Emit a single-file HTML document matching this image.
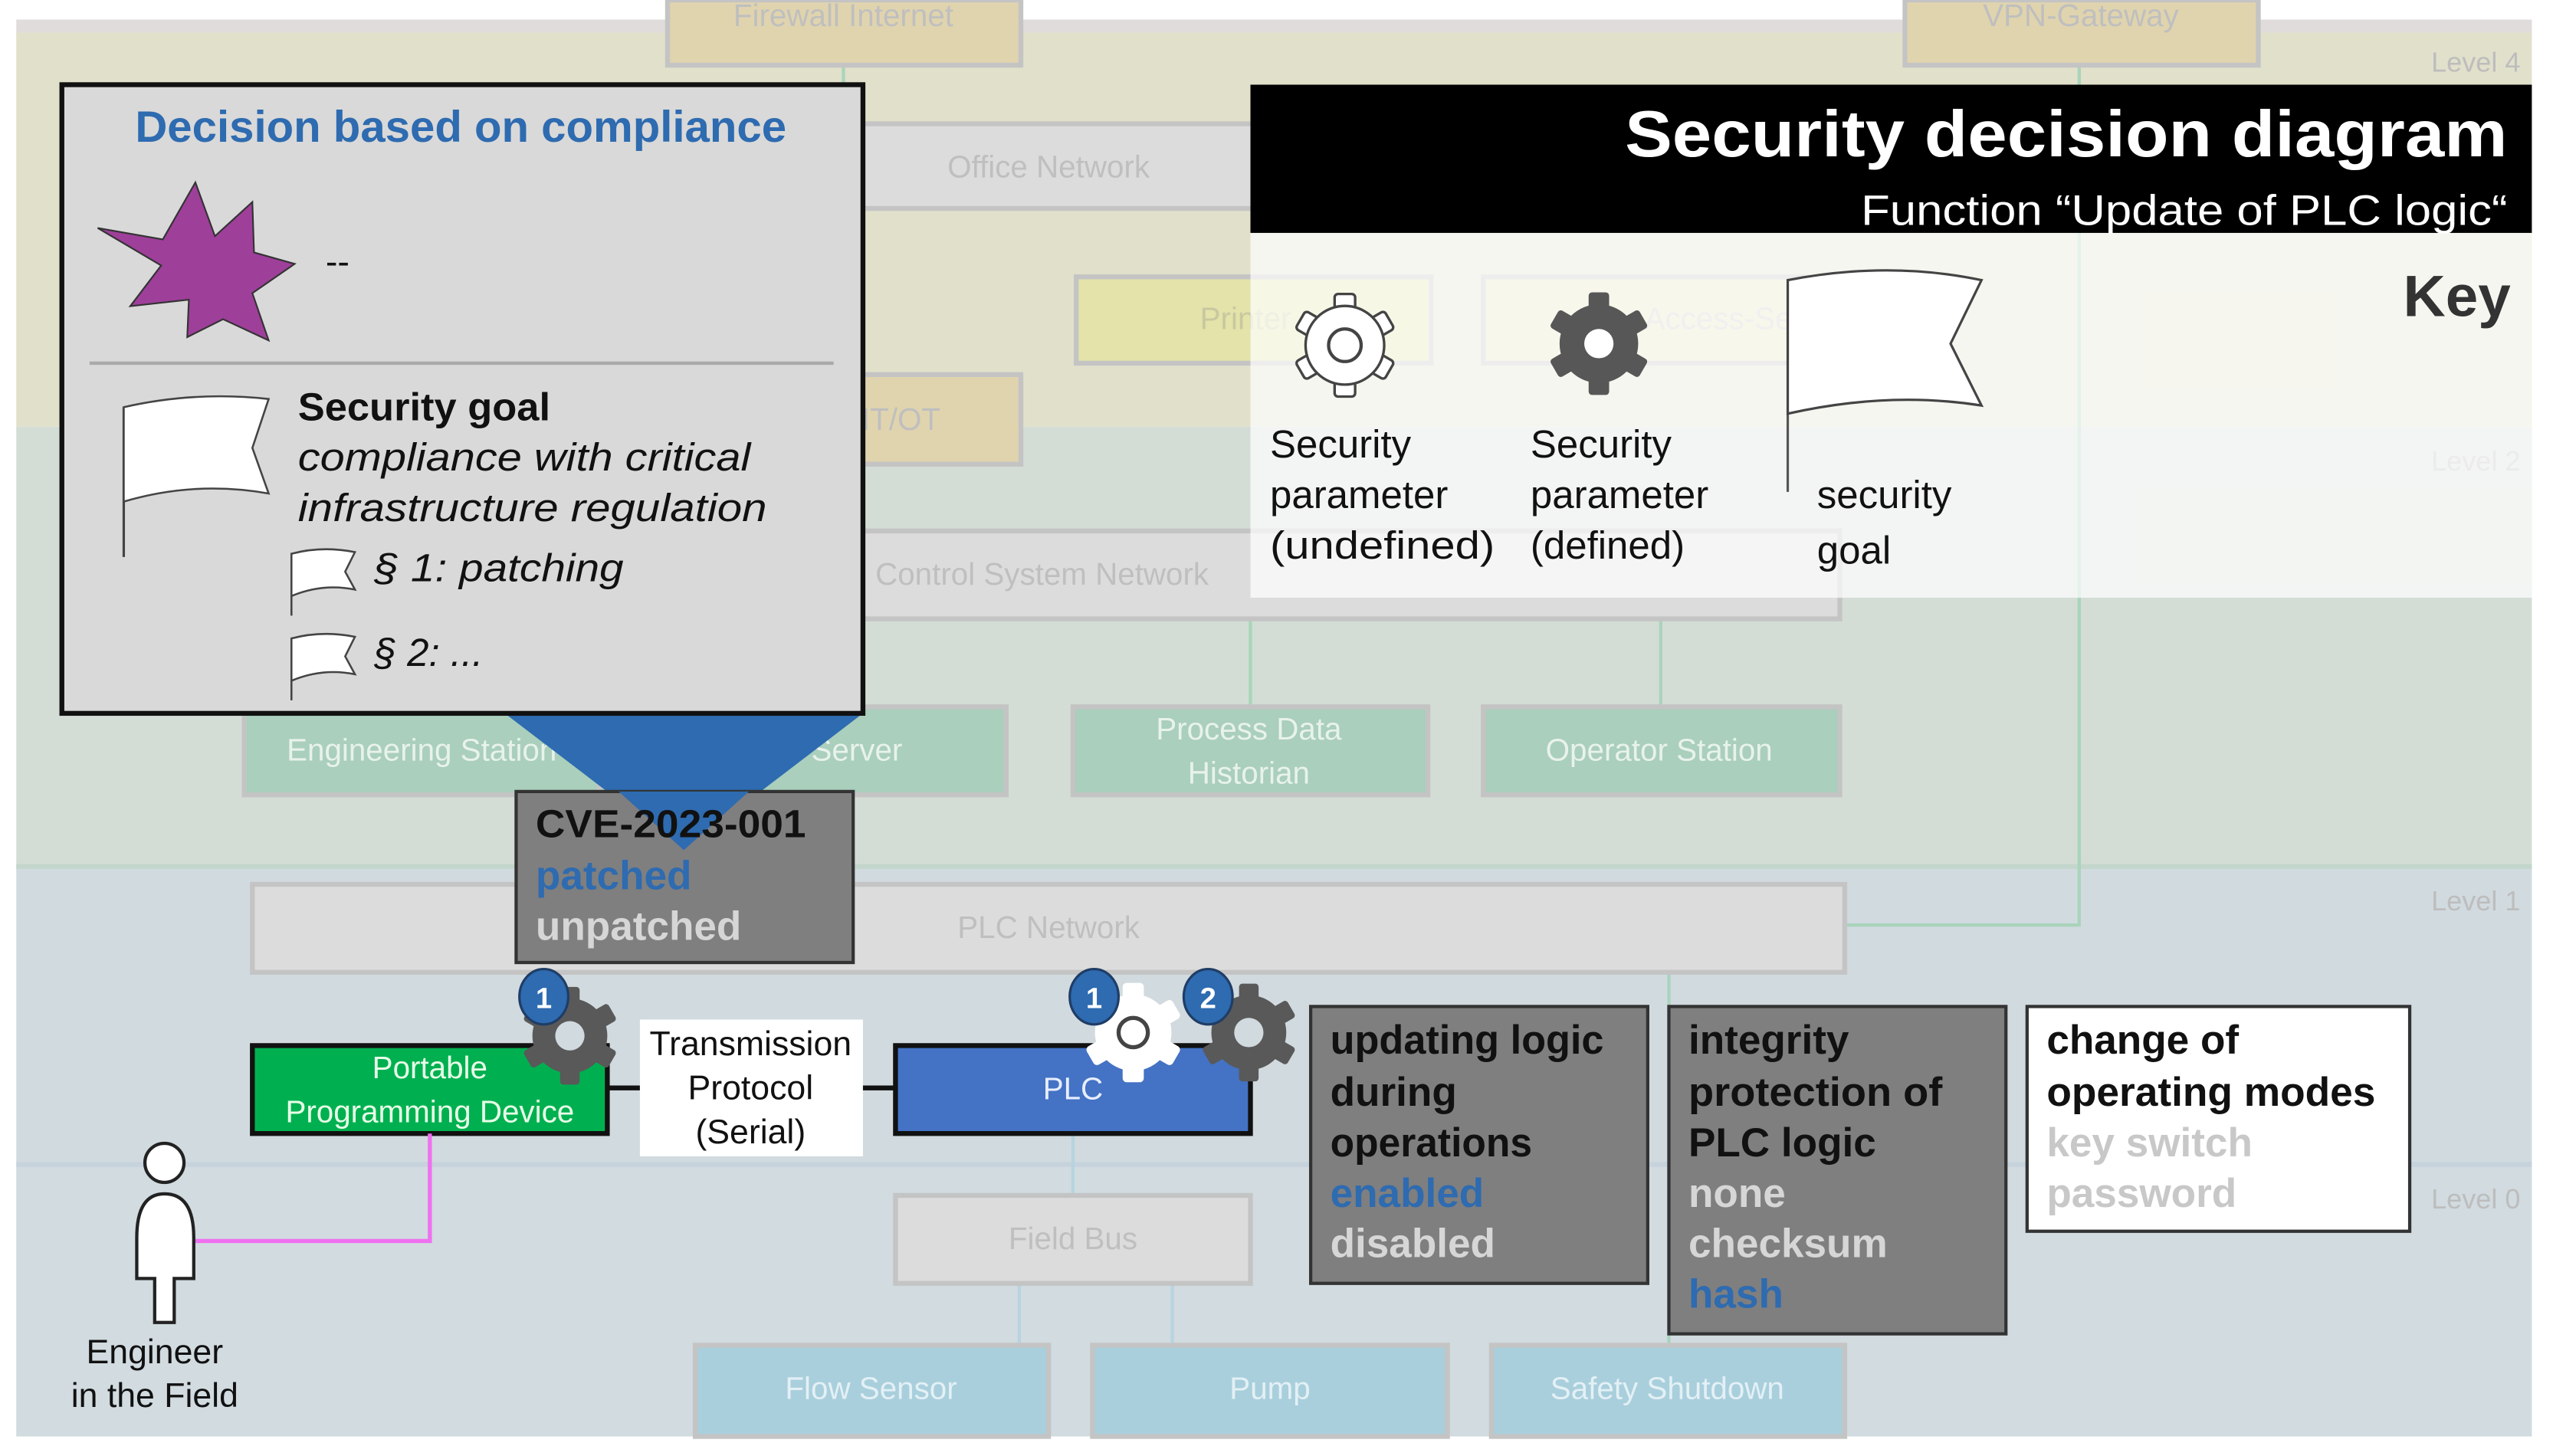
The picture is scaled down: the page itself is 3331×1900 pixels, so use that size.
<!DOCTYPE html>
<html><head><meta charset="utf-8"><style>
html,body{margin:0;padding:0;background:#fff;}
svg{display:block;}
text{font-family:"Liberation Sans",sans-serif;}
</style></head><body>
<svg width="3331" height="1900" viewBox="0 0 1568 894" preserveAspectRatio="none" xmlns="http://www.w3.org/2000/svg">
<defs>
<g id="gear">
  <rect x="-6" y="-30" width="12" height="14" rx="2"/>
  <rect x="-6" y="-30" width="12" height="14" rx="2" transform="rotate(60)"/>
  <rect x="-6" y="-30" width="12" height="14" rx="2" transform="rotate(120)"/>
  <rect x="-6" y="-30" width="12" height="14" rx="2" transform="rotate(180)"/>
  <rect x="-6" y="-30" width="12" height="14" rx="2" transform="rotate(240)"/>
  <rect x="-6" y="-30" width="12" height="14" rx="2" transform="rotate(300)"/>
  <circle r="23"/>
</g>
</defs>
<rect width="1568" height="894" fill="#fff"/>
<rect x="10" y="12" width="1545" height="10" fill="#e0dcdc"/>
<rect x="10" y="20" width="1545" height="242" fill="#e1e0cb"/>
<rect x="10" y="262" width="1545" height="270" fill="#d3ddd5"/>
<rect x="10" y="532" width="1545" height="183" fill="#d1dadf"/>
<rect x="10" y="715" width="1545" height="167" fill="#d1dbe0"/>
<line x1="10" y1="532" x2="1555" y2="532" stroke="#c3d6cb" stroke-width="3"/>
<line x1="10" y1="715" x2="1555" y2="715" stroke="#c6d3dc" stroke-width="3"/>
<g font-size="17" fill="#bdbdbd" text-anchor="end">
<text x="1548" y="44">Level 4</text><text x="1548" y="289">Level 2</text>
<text x="1548" y="559">Level 1</text><text x="1548" y="742">Level 0</text></g>
<g stroke="#a9d4bb" stroke-width="2" fill="none">
<polyline points="1277,40 1277,568 1133,568"/>
<line x1="518" y1="40" x2="518" y2="76"/>
<line x1="768" y1="380" x2="768" y2="434"/>
<line x1="1020" y1="380" x2="1020" y2="434"/>
<line x1="1025" y1="597" x2="1025" y2="826"/>
</g>
<g stroke="#b7d4e0" stroke-width="2"><line x1="659" y1="696" x2="659" y2="734"/><line x1="626" y1="788" x2="626" y2="826"/><line x1="720" y1="788" x2="720" y2="826"/></g>
<g stroke="#c4c4c4" stroke-width="3">
<rect x="410" y="0" width="217" height="40" fill="#e0d4ae"/>
<rect x="1170" y="0" width="217" height="40" fill="#e0d4ae"/>
<rect x="530" y="76" width="240" height="52" fill="#dcdcdc"/>
<rect x="661" y="170" width="218" height="53" fill="#e3e3aa"/>
<rect x="911" y="170" width="219" height="53" fill="#e6e5c0"/>
<rect x="410" y="230" width="217" height="55" fill="#e0d4ae"/>
<rect x="150" y="326" width="980" height="54" fill="#dcdcdc"/>
<rect x="150" y="434" width="218" height="54" fill="#aacfbc"/>
<rect x="368" y="434" width="250" height="54" fill="#aacfbc"/>
<rect x="659" y="434" width="218" height="54" fill="#aacfbc"/>
<rect x="911" y="434" width="219" height="54" fill="#aacfbc"/>
<rect x="155" y="543" width="978" height="54" fill="#dcdcdc"/>
<rect x="550" y="734" width="218" height="54" fill="#dcdcdc"/>
<rect x="427" y="826" width="217" height="56" fill="#a9cfdc"/>
<rect x="671" y="826" width="218" height="56" fill="#a9cfdc"/>
<rect x="916" y="826" width="217" height="56" fill="#a9cfdc"/>
</g>
<g font-size="19" fill="#bfbfbf" text-anchor="middle">
<text x="518" y="16">Firewall Internet</text>
<text x="1278" y="16">VPN-Gateway</text>
<text x="644" y="109">Office Network</text>
<text x="518" y="264">Firewall IT/OT</text>
<text x="640" y="359">Control System Network</text>
<text x="644" y="576">PLC Network</text>
<text x="659" y="767">Field Bus</text>
</g>
<g font-size="19" fill="#e8f2ec" text-anchor="middle">
<text x="259" y="467">Engineering Station</text>
<text x="493" y="467">Control Server</text>
<text x="767" y="454">Process Data</text><text x="767" y="481">Historian</text>
<text x="1019" y="467">Operator Station</text>
</g>
<g font-size="19" fill="#e3f0f5" text-anchor="middle">
<text x="535" y="859">Flow Sensor</text><text x="780" y="859">Pump</text><text x="1024" y="859">Safety Shutdown</text>
</g>
<text x="737" y="202" font-size="19" fill="#c8c8a0">Printer</text>
<text x="1010" y="202" font-size="19" fill="#ccc">Access-Server</text>

<rect x="768" y="143" width="787" height="224" fill="#fff" fill-opacity="0.7"/>
<rect x="768" y="52" width="787" height="91" fill="#000"/>
<text x="1540" y="96" font-size="40" font-weight="bold" fill="#fff" text-anchor="end" textLength="542" lengthAdjust="spacingAndGlyphs">Security decision diagram</text>
<text x="1540" y="138" font-size="26" fill="#fff" text-anchor="end" textLength="397" lengthAdjust="spacingAndGlyphs">Function “Update of PLC logic“</text>
<text x="1542" y="194" font-size="36" font-weight="bold" fill="#333" text-anchor="end">Key</text>
<use href="#gear" transform="translate(826,212) scale(1.05)" fill="#fff" stroke="#444" stroke-width="1.5"/>
<circle cx="826" cy="212" r="10" fill="#fff" stroke="#444" stroke-width="2"/>
<use href="#gear" transform="translate(982,211) scale(1.05)" fill="#575757"/>
<circle cx="982" cy="211" r="9" fill="#fff"/>
<g font-size="24" fill="#111">
<text x="780" y="281">Security</text><text x="780" y="312">parameter</text><text x="780" y="343" textLength="138" lengthAdjust="spacingAndGlyphs">(undefined)</text>
<text x="940" y="281">Security</text><text x="940" y="312">parameter</text><text x="940" y="343">(defined)</text>
<text x="1116" y="312">security</text><text x="1116" y="346">goal</text>
</g>
<line x1="1098" y1="172" x2="1098" y2="302" stroke="#555" stroke-width="1.5"/>
<path d="M1098,172 Q1160,160 1217,172 L1198,211 L1217,249 Q1160,240 1098,254 Z" fill="#fff" stroke="#444" stroke-width="1.5"/>

<polygon points="310,438 530,438 420,522" fill="#2e6bb0"/>
<rect x="38" y="52" width="492" height="386" fill="#d9d9d9" stroke="#111" stroke-width="3"/>
<text x="283" y="87" font-size="27" font-weight="bold" fill="#2e6bb0" text-anchor="middle" textLength="400" lengthAdjust="spacingAndGlyphs">Decision based on compliance</text>
<polygon points="120,112 132,145 155,124 156,155 181,162 155,180 165,209 137,196 115,207 116,184 80,188 99,163 60,140 100,147" fill="#9e3f9a" stroke="#333" stroke-width="1"/>
<text x="200" y="168" font-size="22" fill="#111">--</text>
<line x1="55" y1="223" x2="512" y2="223" stroke="#aaa" stroke-width="2"/>
<line x1="76" y1="250" x2="76" y2="342" stroke="#444" stroke-width="1.5"/>
<path d="M76,250 Q120,240 165,245 L155,275 L165,303 Q120,295 76,308 Z" fill="#fff" stroke="#444" stroke-width="1.2"/>
<text x="183" y="258" font-size="24" font-weight="bold" fill="#111" textLength="155" lengthAdjust="spacingAndGlyphs">Security goal</text>
<g font-size="24" font-style="italic" fill="#111">
<text x="183" y="289" textLength="278" lengthAdjust="spacingAndGlyphs">compliance with critical</text>
<text x="183" y="320" textLength="288" lengthAdjust="spacingAndGlyphs">infrastructure regulation</text>
<text x="230" y="357" textLength="153" lengthAdjust="spacingAndGlyphs">§ 1: patching</text>
<text x="230" y="409">§ 2: ...</text>
</g>
<g fill="#fff" stroke="#444" stroke-width="1.2">
<line x1="179" y1="340" x2="179" y2="378"/>
<path d="M179,340 Q198,335 218,339 L212,351 L218,362 Q198,358 179,366 Z"/>
<line x1="179" y1="392" x2="179" y2="430"/>
<path d="M179,392 Q198,387 218,391 L212,403 L218,414 Q198,410 179,418 Z"/>
</g>
<rect x="317" y="486" width="207" height="105" fill="#7f7f7f" stroke="#333" stroke-width="2"/>
<polygon points="380,486 460,486 420,522" fill="#2e6bb0"/>
<text x="329" y="514" font-size="24" font-weight="bold" fill="#111" textLength="166" lengthAdjust="spacingAndGlyphs">CVE-2023-001</text>
<text x="329" y="546" font-size="25" font-weight="bold" fill="#2e6bb0">patched</text>
<text x="329" y="577" font-size="25" font-weight="bold" fill="#d6d6d6">unpatched</text>

<line x1="373" y1="668" x2="550" y2="668" stroke="#111" stroke-width="3"/>
<rect x="155" y="642" width="218" height="54" fill="#00b050" stroke="#111" stroke-width="3"/>
<text x="264" y="662" font-size="19" fill="#e8ffe8" text-anchor="middle">Portable</text>
<text x="264" y="689" font-size="19" fill="#e8ffe8" text-anchor="middle">Programming Device</text>
<rect x="393" y="626" width="137" height="84" fill="#fff"/>
<g font-size="21" fill="#111" text-anchor="middle">
<text x="461" y="648">Transmission</text><text x="461" y="675">Protocol</text><text x="461" y="702">(Serial)</text></g>
<rect x="550" y="642" width="218" height="54" fill="#4472c4" stroke="#111" stroke-width="3"/>
<text x="659" y="675" font-size="19" fill="#e8eeff" text-anchor="middle">PLC</text>
<use href="#gear" transform="translate(350,636)" fill="#595959"/>
<circle cx="350" cy="636" r="9" fill="#d1dadf"/>
<use href="#gear" transform="translate(696,634)" fill="#fff" stroke="#fff"/>
<circle cx="696" cy="634" r="9" fill="none" stroke="#444" stroke-width="2.5"/>
<use href="#gear" transform="translate(767,634)" fill="#595959"/>
<circle cx="767" cy="634" r="9" fill="#d1dadf"/>
<g stroke="#1f3d66" stroke-width="1.5" fill="#2e6bb0">
<ellipse cx="334" cy="612" rx="15" ry="17"/><ellipse cx="672" cy="612" rx="15" ry="17"/><ellipse cx="742" cy="612" rx="15" ry="17"/></g>
<g font-size="18" font-weight="bold" fill="#fff" text-anchor="middle">
<text x="334" y="619">1</text><text x="672" y="619">1</text><text x="742" y="619">2</text></g>

<rect x="805" y="618" width="207" height="170" fill="#7f7f7f" stroke="#333" stroke-width="2"/>
<g font-size="25" font-weight="bold">
<text x="817" y="647" fill="#111" textLength="168" lengthAdjust="spacingAndGlyphs">updating logic</text>
<text x="817" y="679" fill="#111">during</text>
<text x="817" y="710" fill="#111" textLength="124" lengthAdjust="spacingAndGlyphs">operations</text>
<text x="817" y="741" fill="#2e6bb0">enabled</text>
<text x="817" y="772" fill="#d6d6d6">disabled</text>
</g>
<rect x="1025" y="618" width="207" height="201" fill="#7f7f7f" stroke="#333" stroke-width="2"/>
<g font-size="25" font-weight="bold">
<text x="1037" y="647" fill="#111">integrity</text>
<text x="1037" y="679" fill="#111" textLength="156" lengthAdjust="spacingAndGlyphs">protection of</text>
<text x="1037" y="710" fill="#111">PLC logic</text>
<text x="1037" y="741" fill="#d6d6d6">none</text>
<text x="1037" y="772" fill="#d6d6d6">checksum</text>
<text x="1037" y="803" fill="#2e6bb0">hash</text>
</g>
<rect x="1245" y="618" width="235" height="138" fill="#fff" stroke="#333" stroke-width="2"/>
<g font-size="25" font-weight="bold">
<text x="1257" y="647" fill="#111">change of</text>
<text x="1257" y="679" fill="#111" textLength="202" lengthAdjust="spacingAndGlyphs">operating modes</text>
<text x="1257" y="710" fill="#c8c8c8">key switch</text>
<text x="1257" y="741" fill="#c8c8c8">password</text>
</g>

<polyline points="264,696 264,762 120,762" fill="none" stroke="#f070f0" stroke-width="2.5"/>
<circle cx="101" cy="714" r="12" fill="#fff" stroke="#222" stroke-width="2"/>
<path d="M84,760 Q84,733 101,733 Q119,733 119,760 L119,785 L107,785 L107,812 L95,812 L95,785 L84,785 Z" fill="#fff" stroke="#222" stroke-width="2"/>
<g font-size="21" fill="#111" text-anchor="middle"><text x="95" y="837">Engineer</text><text x="95" y="864">in the Field</text></g>
</svg>
</body></html>
